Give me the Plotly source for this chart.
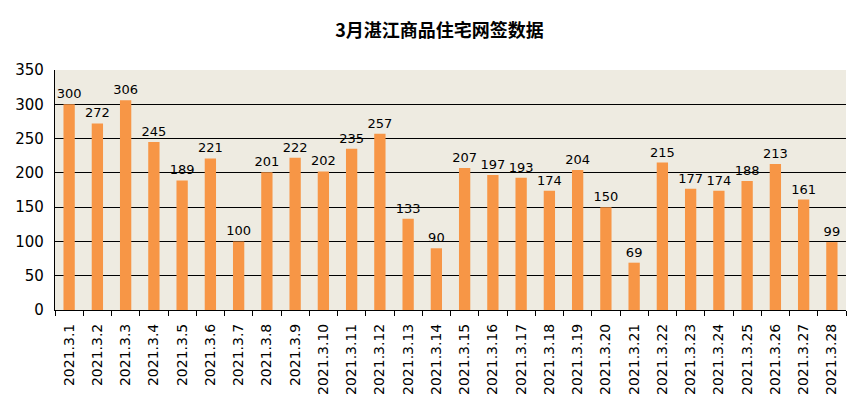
import plotly.graph_objects as go

dates = ["2021.3.%d" % d for d in range(1, 29)]
signed = [300, 272, 306, 245, 189, 221, 100, 201, 222, 202, 235, 257, 133, 90,
          207, 197, 193, 174, 204, 150, 69, 215, 177, 174, 188, 213, 161, 99]
y_ticks = [0, 50, 100, 150, 200, 250, 300, 350]

fig = go.Figure(layout=go.Layout(width=863, height=404))
fig.add_trace(
    go.Bar(
        x=dates, y=signed, marker_color='#F79646', marker_line_width=0,
        text=signed, textposition='outside', cliponaxis=False, constraintext='none',
        outsidetextfont=dict(size=13, color='#000000', family='DejaVu Sans')
    )
)
fig.update_layout(
    title=dict(text='<b>3月湛江商品住宅网签数据</b>', x=0.5, xanchor='center',
               yref='container', y=0.945, yanchor='middle',
               font=dict(size=18, color='#000000', family='Noto Sans CJK SC')),
    plot_bgcolor='#EEEBE1',
    paper_bgcolor='#FFFFFF',
    margin=dict(l=47, r=25, t=62, b=102),
    bargap=0.6,
    showlegend=False,
    font=dict(family='DejaVu Sans', color='#000000'),
)
fig.update_yaxes(
    range=[0, 350], tickvals=y_ticks, showgrid=True, gridcolor='#000000', gridwidth=1.3,
    showline=True, linecolor='#000000', linewidth=1.3, zeroline=False,
    tickfont=dict(size=15), ticks='', ticklen=0, ticklabelstandoff=7, automargin=False
)
fig.update_xaxes(
    tickangle=-90, tickfont=dict(size=14), showline=True, linecolor='#000000', linewidth=1.3,
    ticks='outside', tickson='boundaries', ticklen=5, tickcolor='#000000',
    ticklabelstandoff=7, automargin=False
)
fig.write_html("out.html")
